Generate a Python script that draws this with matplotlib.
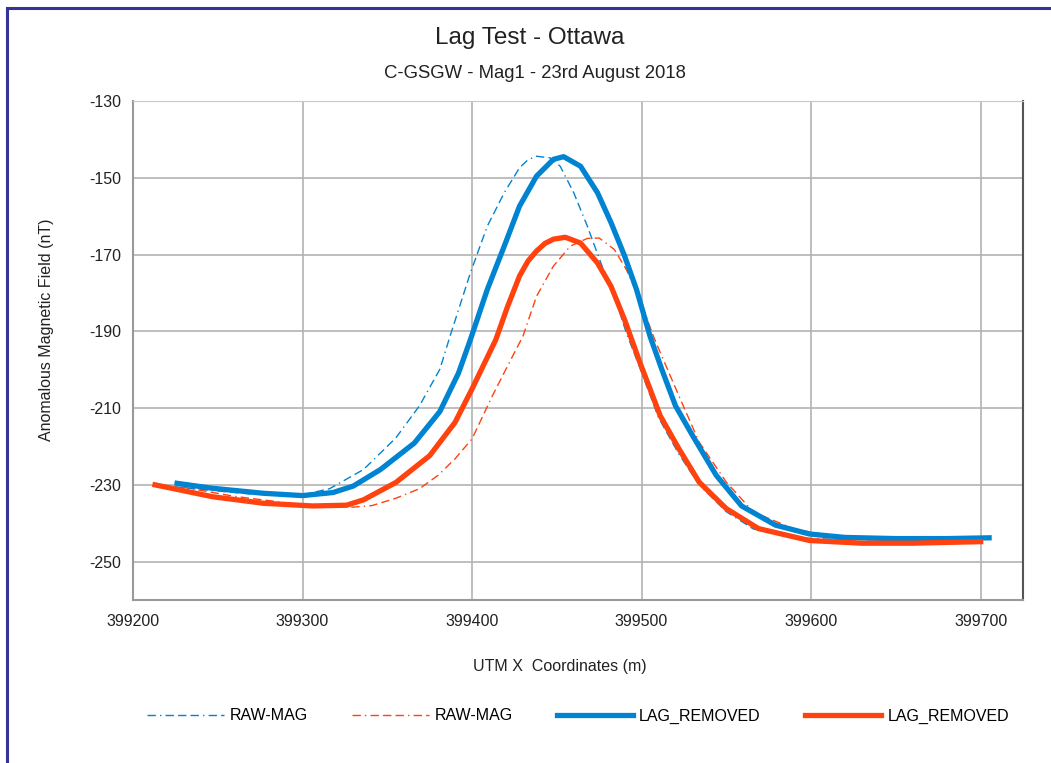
import matplotlib
matplotlib.use("Agg")
import matplotlib.pyplot as plt
from matplotlib.lines import Line2D

plt.rcParams['font.family'] = ['Liberation Sans', 'DejaVu Sans']

blue = '#0084d1'
red = '#ff420e'

# blue flight, raw and lag removed
blue_raw_x = [399214, 399240, 399270, 399300, 399316, 399336, 399355, 399369, 399381, 399387,
              399399, 399409, 399419, 399428, 399433, 399438, 399446, 399452, 399460, 399468,
              399476, 399484, 399491, 399499, 399510, 399522, 399534, 399550, 399566, 399590,
              399620, 399650, 399693]
blue_raw_y = [-230.0, -231.2, -232.4, -232.6, -231.0, -226.0, -217.8, -209.4, -199.9, -191.3,
              -174.8, -162.6, -153.9, -147.4, -145.3, -144.4, -144.8, -147.0, -153.9, -162.6,
              -172.2, -180.9, -190.4, -199.5, -212.5, -222.0, -230.0, -237.0, -241.5, -243.8,
              -244.3, -244.3, -244.2]

blue_lag_x = [399226, 399247, 399277, 399300, 399318, 399330, 399346, 399366, 399381, 399392,
              399399, 399409, 399419, 399428, 399438, 399448, 399454, 399464, 399474, 399482,
              399490, 399497, 399505, 399512, 399520, 399530, 399544, 399559, 399579, 399599,
              399620, 399650, 399680, 399705]
blue_lag_y = [-229.6, -230.9, -232.2, -232.8, -232.0, -230.3, -226.0, -219.1, -210.9, -200.9,
              -192.2, -179.1, -167.8, -157.4, -149.6, -145.2, -144.5, -147.0, -153.9, -161.7,
              -170.4, -179.1, -191.3, -200.0, -209.4, -217.1, -227.5, -235.5, -240.5, -242.8,
              -243.7, -244.0, -244.0, -243.8]

# red flight, raw and lag removed
red_raw_x = [399228, 399260, 399300, 399330, 399341, 399355, 399369, 399380, 399390, 399400,
             399412, 399424, 399430, 399438, 399448, 399458, 399468, 399475, 399484, 399491,
             399499, 399507, 399511, 399522, 399534, 399550, 399566, 399590, 399620, 399660,
             399700]
red_raw_y = [-230.5, -233.0, -235.2, -235.8, -235.4, -233.5, -231.0, -227.5, -223.2, -218.0,
             -206.8, -196.4, -191.3, -180.9, -173.0, -167.8, -165.8, -165.7, -168.7, -173.9,
             -181.7, -191.3, -195.5, -206.8, -218.9, -229.3, -237.1, -241.5, -244.0, -244.7,
             -244.6]

red_lag_x = [399213, 399247, 399277, 399306, 399326, 399336, 399355, 399375, 399390, 399400,
             399414, 399421, 399428, 399433, 399438, 399443, 399448, 399455, 399464, 399474,
             399482, 399490, 399499, 399511, 399522, 399534, 399550, 399569, 399599, 399630,
             399660, 399700]
red_lag_y = [-230.0, -233.1, -234.8, -235.5, -235.3, -233.9, -229.4, -222.4, -213.7, -205.0,
             -192.2, -183.5, -175.6, -171.7, -169.1, -167.1, -166.0, -165.5, -167.0, -172.2,
             -178.3, -187.0, -198.1, -212.0, -220.6, -229.3, -236.2, -241.4, -244.5, -245.2,
             -245.2, -244.8]

xticks = [399200, 399300, 399400, 399500, 399600, 399700]
yticks = [-250, -230, -210, -190, -170, -150, -130]

fig = plt.figure(figsize=(10.51, 7.63), dpi=100)
ax = fig.add_axes([133/1051, 1 - 600/763, (1023 - 133)/1051, (600 - 101)/763])

dash = (0, (6, 3, 1, 3, 6, 3, 6, 3))
ax.plot(blue_raw_x, blue_raw_y, color=blue, lw=1.0, linestyle=dash, label='RAW-MAG')
ax.plot(red_raw_x, red_raw_y, color=red, lw=1.0, linestyle=dash, label='RAW-MAG')
ax.plot(blue_lag_x, blue_lag_y, color=blue, lw=3.8, label='LAG_REMOVED', solid_joinstyle='round')
ax.plot(red_lag_x, red_lag_y, color=red, lw=3.8, label='LAG_REMOVED', solid_joinstyle='round')

ax.set_xlim(399200, 399725)
ax.set_ylim(-260, -130)
ax.set_xticks(xticks)
ax.set_yticks(yticks)
ax.set_xticklabels([str(v) for v in xticks])
ax.set_yticklabels([str(v) for v in yticks])
ax.grid(True, color='#b3b3b3', lw=1.2)
ax.set_axisbelow(True)
ax.tick_params(axis='y', length=0, labelsize=11.5, colors='#222222', pad=8.5)
ax.tick_params(axis='x', length=0, labelsize=11.5, colors='#222222', pad=10)
for s in ['left', 'bottom']:
    ax.spines[s].set_color('#999999')
    ax.spines[s].set_linewidth(1.5)
ax.spines['top'].set_color('#c8c8c8')
ax.spines['right'].set_color('#555555')
ax.spines['right'].set_linewidth(1.5)

fig.text(530/1051, 1 - 38/763, 'Lag Test - Ottawa', ha='center', va='center', fontsize=17.5, color='#222222')
fig.text(535/1051, 1 - 74/763, 'C-GSGW - Mag1 - 23rd August 2018', ha='center', va='center',
         fontsize=13.3, color='#222222')
fig.text(560/1051, 1 - 666/763, 'UTM X  Coordinates (m)', ha='center', va='center', fontsize=11.5,
         color='#222222')
fig.text(46/1051, 1 - 330/763, 'Anomalous Magnetic Field (nT)', ha='center', va='center', rotation=90,
         fontsize=11.5, color='#222222')

fig.legend(loc='center', bbox_to_anchor=(578/1051, 1 - 716/763), ncol=4, frameon=False, fontsize=11.5,
           handlelength=4.8, handletextpad=0.37, columnspacing=2.75)

# frame on left and top edges
fig.add_artist(Line2D([7/1051, 7/1051], [0, 1 - 8/763], transform=fig.transFigure, color='#333399', lw=2.2))
fig.add_artist(Line2D([7/1051, 1], [1 - 8/763, 1 - 8/763], transform=fig.transFigure, color='#333399', lw=2.2))

fig.savefig('out.png', dpi=100)
